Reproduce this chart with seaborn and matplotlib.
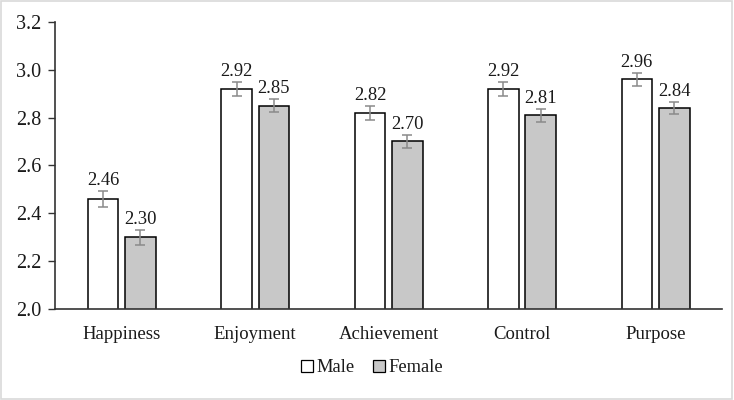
import matplotlib
matplotlib.use('Agg')
import matplotlib.pyplot as plt
import pandas as pd
import seaborn as sns
from matplotlib.patches import Patch

# data
categories = ['Happiness', 'Enjoyment', 'Achievement', 'Control', 'Purpose']
male = [2.46, 2.92, 2.82, 2.92, 2.96]
female = [2.30, 2.85, 2.70, 2.81, 2.84]
male_err = [0.033, 0.028, 0.028, 0.028, 0.028]
female_err = [0.031, 0.027, 0.027, 0.027, 0.027]
groups = ['Male', 'Female']
yticks = [2.0, 2.2, 2.4, 2.6, 2.8, 3.0, 3.2]

df = pd.DataFrame({
    'category': categories * 2,
    'score': male + female,
    'err': male_err + female_err,
    'group': ['Male'] * len(categories) + ['Female'] * len(categories),
})

sns.set_style('white')
plt.rcParams['font.family'] = ['Liberation Serif', 'DejaVu Serif']

fig = plt.figure(figsize=(7.34, 4.0), dpi=100)
ax = fig.add_axes([0.075, 0.228, 0.909, 0.717])
palette = {'Male': 'white', 'Female': '#c8c8c8'}
sns.barplot(data=df, x='category', y='score', hue='group', palette=palette,
            edgecolor='black', linewidth=1.1, width=0.56, gap=0.18,
            errorbar=None, legend=False, ax=ax)

# error bars and value labels from the drawn bars
for container, g in zip(ax.containers, groups):
    sub = df[df['group'] == g]
    for bar, val, err in zip(container, sub['score'], sub['err']):
        cx = bar.get_x() + bar.get_width() / 2
        ax.errorbar(cx, val, yerr=err, color='#8a8a8a', capsize=3.3,
                    elinewidth=1.1, capthick=1.1)
        ax.text(cx, val + err + 0.008, f'{val:.2f}', ha='center', va='bottom',
                fontsize=13.3, color='#1a1a1a')

ax.set_ylim(2.0, 3.2)
ax.set_yticks(yticks)
ax.set_yticklabels([f'{v:.1f}' for v in yticks])
ax.set_xlim(-0.5, 4.5)
ax.set_xlabel('')
ax.set_ylabel('')
for s in ['top', 'right']:
    ax.spines[s].set_visible(False)
for s in ['left', 'bottom']:
    ax.spines[s].set_color('#333333')
    ax.spines[s].set_linewidth(1.2)
ax.tick_params(axis='y', left=True, length=5, width=1.0, color='#333333',
               labelsize=14.5, pad=5, labelcolor='#1a1a1a')
ax.tick_params(axis='x', bottom=False, labelsize=13.5, pad=9, labelcolor='#1a1a1a')

handles = [Patch(facecolor=palette[g], edgecolor='black', linewidth=0.9) for g in groups]
fig.legend(handles, groups, loc='center', bbox_to_anchor=(0.507, 0.08), ncol=2,
           frameon=False, fontsize=13.3, handlelength=0.65, handleheight=0.65,
           handletextpad=0.2, columnspacing=1.0, labelcolor='#1a1a1a')

# light figure border
fig.patches.append(plt.Rectangle((0.002, 0.003), 0.995, 0.994, transform=fig.transFigure,
                                 fill=False, edgecolor='#d9d9d9', linewidth=1.2))

plt.savefig('out.png', dpi=100)
